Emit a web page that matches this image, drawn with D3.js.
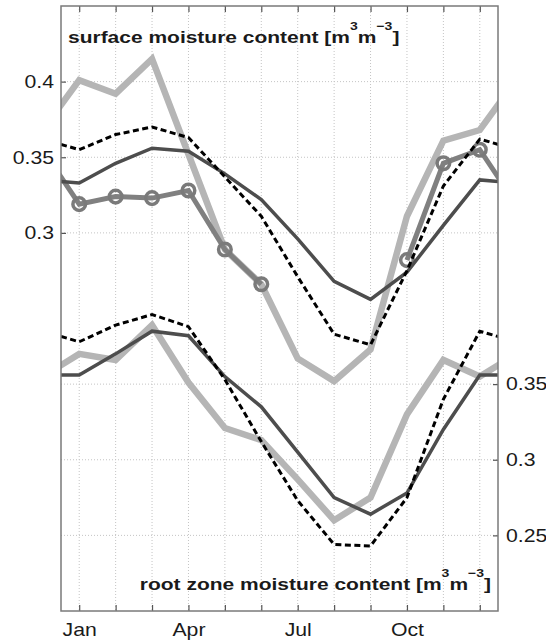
<!DOCTYPE html>
<html>
<head>
<meta charset="utf-8">
<title>Surface and root zone moisture content</title>
<script src="https://cdn.jsdelivr.net/npm/d3@7"></script>
<style>
body { margin: 0; background: #fff; }
text { font-family: Arial, "Liberation Sans", sans-serif; fill: #1a1a1a; }
.grid line { stroke: #c4c4c4; stroke-width: 1; stroke-dasharray: 1,2; }
.axis .domain { display: none; }
.axis line { stroke: #555; stroke-width: 1.2; }
.series { fill: none; stroke-linejoin: miter; stroke-miterlimit: 3; }
</style>
</head>
<body>
<svg id="chart" width="546" height="641"></svg>
<script>

// monthly means, Jan..Dec
var months = [1, 2, 3, 4, 5, 6, 7, 8, 9, 10, 11, 12];
var monthNames = ["Jan", "Feb", "Mar", "Apr", "May", "Jun", "Jul", "Aug", "Sep", "Oct", "Nov", "Dec"];
var labelledMonths = ["Jan", "Apr", "Jul", "Oct"];

// surface moisture (left axis)
var surfaceLight = [0.401, 0.392, 0.415, 0.352, 0.289, 0.266, 0.217, 0.202, 0.223, 0.311, 0.361, 0.368];
var surfaceObs   = [0.319, 0.324, 0.323, 0.328, 0.289, 0.266, null, null, null, 0.282, 0.346, 0.355];
var surfaceDark  = [0.333, 0.346, 0.356, 0.354, 0.339, 0.322, 0.296, 0.268, 0.256, 0.274, 0.305, 0.335];
var surfaceDash  = [0.355, 0.365, 0.370, 0.363, 0.337, 0.311, 0.271, 0.233, 0.226, 0.275, 0.331, 0.362];

// root zone moisture (right axis)
var rootLight = [0.370, 0.366, 0.389, 0.351, 0.321, 0.313, 0.287, 0.260, 0.275, 0.330, 0.366, 0.355];
var rootDark  = [0.356, 0.370, 0.385, 0.382, 0.355, 0.335, 0.305, 0.275, 0.264, 0.278, 0.320, 0.356];
var rootDash  = [0.378, 0.389, 0.396, 0.388, 0.353, 0.312, 0.273, 0.244, 0.243, 0.275, 0.340, 0.385];

var surfaceTicks = [0.3, 0.35, 0.4];
var rootTicks = [0.25, 0.3, 0.35];

var margin = {top: 6, right: 48, bottom: 30, left: 61};
var width = 546, height = 641;
var sx = 1.18; // the figure text is stretched sideways

var svg = d3.select("#chart");

var x = d3.scaleLinear().domain([0.5, 12.5]).range([margin.left, width - margin.right]);
var yS = d3.scaleLinear().domain([0.05, 0.45]).range([height - margin.bottom, margin.top]);
var yR = d3.scaleLinear().domain([0.2, 0.6]).range([height - margin.bottom, margin.top]);

// climatology wraps round: Dec before Jan, Jan after Dec
function wrap(vals) {
  var pts = [{m: 0, v: vals[11]}];
  vals.forEach(function(v, i) { pts.push({m: months[i], v: v}); });
  pts.push({m: 13, v: vals[0]});
  return pts;
}

svg.append("clipPath").attr("id", "plotclip")
  .append("rect")
  .attr("x", margin.left).attr("y", margin.top)
  .attr("width", width - margin.left - margin.right)
  .attr("height", height - margin.top - margin.bottom);

// grid
var grid = svg.append("g").attr("class", "grid");
grid.selectAll("line.v").data(months).join("line")
  .attr("class", "v")
  .attr("x1", d => x(d)).attr("x2", d => x(d))
  .attr("y1", margin.top).attr("y2", height - margin.bottom);
grid.selectAll("line.hs").data(surfaceTicks).join("line")
  .attr("class", "hs")
  .attr("x1", margin.left).attr("x2", width - margin.right)
  .attr("y1", d => yS(d)).attr("y2", d => yS(d));
grid.selectAll("line.hr").data(rootTicks).join("line")
  .attr("class", "hr")
  .attr("x1", margin.left).attr("x2", width - margin.right)
  .attr("y1", d => yR(d)).attr("y2", d => yR(d));

var plot = svg.append("g").attr("clip-path", "url(#plotclip)");

function drawLine(vals, y, color, w, dash) {
  var line = d3.line()
    .defined(d => d.v != null)
    .x(d => x(d.m))
    .y(d => y(d.v));
  var p = plot.append("path")
    .datum(wrap(vals))
    .attr("class", "series")
    .attr("stroke", color)
    .attr("stroke-width", w)
    .attr("d", line);
  if (dash) p.attr("stroke-dasharray", dash);
}

drawLine(surfaceLight, yS, "#b5b5b5", 6.5);
drawLine(surfaceObs, yS, "#808080", 5);
plot.append("g").selectAll("circle")
  .data(months.map((m, i) => ({m: m, v: surfaceObs[i]})).filter(d => d.v != null))
  .join("circle")
  .attr("cx", d => x(d.m))
  .attr("cy", d => yS(d.v))
  .attr("r", 6.3)
  .attr("fill", "none")
  .attr("stroke", "#7a7a7a")
  .attr("stroke-width", 3.5);
drawLine(surfaceDark, yS, "#4d4d4d", 3.5);
drawLine(surfaceDash, yS, "#000", 3, "6,3.5");

drawLine(rootLight, yR, "#b5b5b5", 6.5);
drawLine(rootDark, yR, "#4d4d4d", 3.5);
drawLine(rootDash, yR, "#000", 3, "6,3.5");

// axes
var fs = 18;
svg.append("g").attr("class", "axis")
  .attr("transform", `translate(${margin.left},0)`)
  .call(d3.axisLeft(yS).tickValues(surfaceTicks).tickSize(-5).tickPadding(7).tickFormat(d3.format(".2~f")))
  .attr("font-size", fs).attr("font-family", null)
  .selectAll("text").attr("x", -7 / sx).attr("transform", `scale(${sx},1)`);

svg.append("g").attr("class", "axis")
  .attr("transform", `translate(${width - margin.right},0)`)
  .call(d3.axisRight(yR).tickValues(rootTicks).tickSize(-5).tickPadding(8).tickFormat(d3.format(".2~f")))
  .attr("font-size", fs).attr("font-family", null)
  .selectAll("text").attr("x", 8 / sx).attr("transform", `scale(${sx},1)`);

svg.append("g").attr("class", "axis")
  .attr("transform", `translate(0,${height - margin.bottom})`)
  .call(d3.axisBottom(x).tickValues(months).tickSize(-6).tickPadding(12)
    .tickFormat(m => labelledMonths.indexOf(monthNames[m - 1]) >= 0 ? monthNames[m - 1] : ""))
  .attr("font-size", fs).attr("font-family", null)
  .selectAll("text").attr("transform", `scale(${sx},1)`);

svg.append("g").attr("class", "axis")
  .attr("transform", `translate(0,${margin.top})`)
  .call(d3.axisTop(x).tickValues(months).tickSize(-6).tickFormat(""));

svg.append("rect")
  .attr("x", margin.left).attr("y", margin.top)
  .attr("width", width - margin.left - margin.right)
  .attr("height", height - margin.top - margin.bottom)
  .attr("fill", "none").attr("stroke", "#7a7a7a").attr("stroke-width", 1.5);

// panel labels
function moistureLabel(tx, ty, anchor, words) {
  var t = svg.append("text")
    .attr("transform", `translate(${tx},${ty}) scale(1.22,1)`)
    .attr("text-anchor", anchor)
    .attr("font-weight", "bold")
    .attr("font-size", 17.2);
  t.append("tspan").text(words + " [m");
  t.append("tspan").attr("dy", -13).attr("font-size", 11.5).text("3");
  t.append("tspan").attr("dy", 13).text("m");
  t.append("tspan").attr("dy", -13).attr("font-size", 11.5).text("\u22123");
  t.append("tspan").attr("dy", 13).text("]");
}
moistureLabel(68, 43, "start", "surface moisture content");
moistureLabel(491, 590, "end", "root zone moisture content");

</script>
</body>
</html>
